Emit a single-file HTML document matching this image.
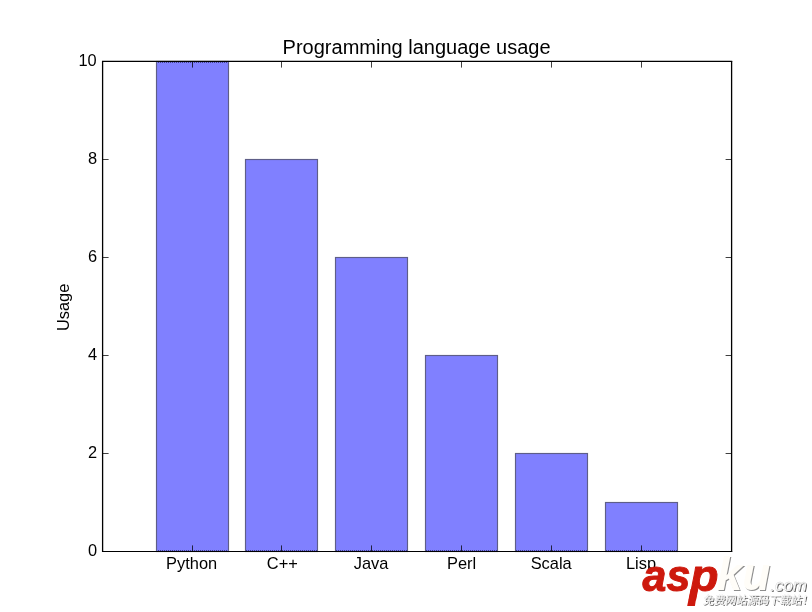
<!DOCTYPE html>
<html>
<head>
<meta charset="utf-8">
<title>Programming language usage</title>
<style>
html,body{margin:0;padding:0;background:#fff;}
body{width:812px;height:612px;overflow:hidden;position:relative;}
svg{position:absolute;left:0;top:0;display:block;will-change:transform;}
text{font-family:"Liberation Sans",sans-serif;fill:#000;}
.tk{font-size:16.4px;}
</style>
</head>
<body>
<svg width="812" height="612" viewBox="0 0 812 612">
  <rect x="0" y="0" width="812" height="612" fill="#ffffff"/>
  <!-- bars -->
  <g fill="#8080ff" stroke="#5e5e88" stroke-width="1.15">
    <rect x="156.5" y="61.5" width="72" height="490"/>
    <rect x="245.5" y="159.5" width="72" height="392"/>
    <rect x="335.5" y="257.5" width="72" height="294"/>
    <rect x="425.5" y="355.5" width="72" height="196"/>
    <rect x="515.5" y="453.5" width="72" height="98"/>
    <rect x="605.5" y="502.5" width="72" height="49"/>
  </g>
  <!-- ticks -->
  <g stroke="#000" stroke-width="0.75" fill="none">
    <path d="M192.5 551.4v-6M281.5 551.4v-6M371.5 551.4v-6M461.5 551.4v-6M551.5 551.4v-6M641.5 551.4v-6"/>
    <path d="M192.5 61.4v6.2M281.5 61.4v6.2M371.5 61.4v6.2M461.5 61.4v6.2M551.5 61.4v6.2M641.5 61.4v6.2"/>
    <path d="M102.6 159.5h6M102.6 257.5h6M102.6 355.5h6M102.6 453.5h6"/>
    <path d="M731.6 159.5h-6M731.6 257.5h-6M731.6 355.5h-6M731.6 453.5h-6"/>
  </g>
  <!-- dotted artefact rows where bars meet the frame -->
  <g stroke="#101030" stroke-width="1" stroke-dasharray="1 1" fill="none">
    <path stroke-opacity="0.55" d="M158 62.5H228"/>
    <path stroke-opacity="0.55" d="M158 550.5H228M246 550.5H317M336 550.5H407M426 550.5H497M516 550.5H587M606 550.5H677"/>
  </g>
  <!-- spines -->
  <g stroke="#000" fill="none">
    <path stroke-width="1.3" d="M102.6 60.9V552M731.6 60.9V552"/>
    <path stroke-width="1.2" d="M102 61.4H732.2"/>
    <path stroke-width="1.12" d="M102 551.46H732.2"/>
  </g>
  <!-- title -->
  <text x="416.6" y="54" font-size="20" text-anchor="middle">Programming language usage</text>
  <!-- y tick labels -->
  <g class="tk" text-anchor="end">
    <text x="96.7" y="66.1">10</text>
    <text x="97.2" y="164.1">8</text>
    <text x="97.2" y="262.1">6</text>
    <text x="97.2" y="360.1">4</text>
    <text x="97.2" y="458.1">2</text>
    <text x="97.2" y="556.1">0</text>
  </g>
  <!-- x tick labels -->
  <g class="tk" text-anchor="middle">
    <text x="191.6" y="569">Python</text>
    <text x="282.3" y="569">C++</text>
    <text x="371.0" y="569">Java</text>
    <text x="461.6" y="569">Perl</text>
    <text x="551.2" y="569">Scala</text>
    <text x="641.0" y="569">Lisp</text>
  </g>
  <!-- y label -->
  <text class="tk" text-anchor="middle" transform="translate(68.7 307.4) rotate(-90)">Usage</text>
  <!-- watermark -->
  <g id="wm" font-style="italic">
    <g font-size="44" font-weight="bold" stroke="#cd190d" stroke-width="1.0" stroke-linejoin="round" style="fill:#cd190d">
      <text transform="translate(642.6 590.5) scale(0.975 1.02)" style="fill:#cd190d">as</text>
      <text transform="translate(690.2 590.5) scale(1.05 1.02)" style="fill:#cd190d">p</text>
    </g>
    <polygon id="pext" points="690.6,589 697.6,589 694.9,606 687.2,606" style="fill:#cd190d"/>
    <g font-weight="bold">
      <text id="kus" x="717.7" y="590.9" font-size="46" style="fill:#8e8e8e">ku</text>
      <text id="ku" x="716.7" y="589.9" font-size="46" style="fill:#fffdf8">ku</text>
    </g>
    <g font-size="16.9">
      <text id="coms" x="771.3" y="591.5" style="fill:#5e5e5e">.com</text>
      <text id="com" x="770.3" y="590.5" style="fill:#ffffff" stroke="#cfcfcf" stroke-width="0.35">.com</text>
    </g>
  </g>
  <!-- chinese slogan -->
  <g id="slogan" font-size="11.1" style="font-family:'Liberation Sans','Noto Sans CJK SC',sans-serif;">
    <text transform="translate(703.8 605.3) skewX(-10) scale(0.989 1)" style="fill:#5a5a5a;font-family:'Liberation Sans','Noto Sans CJK SC',sans-serif;">免费网站源码下载站！</text>
    <text transform="translate(702.8 604.3) skewX(-10) scale(0.989 1)" style="fill:#ffffff;font-family:'Liberation Sans','Noto Sans CJK SC',sans-serif;" stroke="#dadada" stroke-width="0.24">免费网站源码下载站！</text>
  </g>
</svg>
</body>
</html>
